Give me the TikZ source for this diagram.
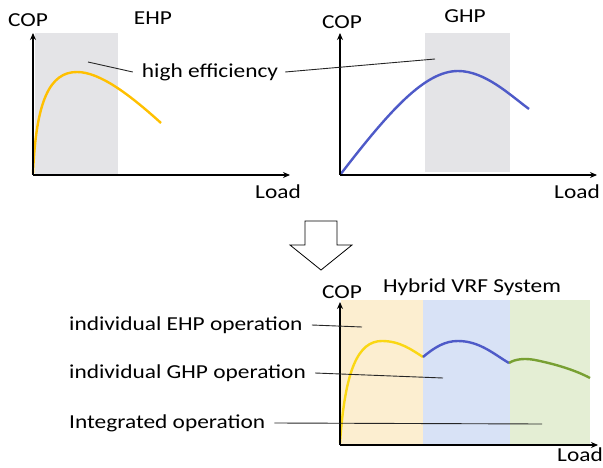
\documentclass[tikz,border=0pt]{standalone}
\usepackage{fontspec}
\setmainfont{Carlito}[FakeStretch=1.18]
\usetikzlibrary{arrows.meta}
\definecolor{ehpc}{RGB}{255,192,0}
\definecolor{ehpb}{RGB}{250,215,20}
\definecolor{ghpc}{RGB}{78,90,200}
\definecolor{grnc}{RGB}{120,160,50}
\definecolor{grayb}{RGB}{228,228,231}
\definecolor{yelb}{RGB}{252,238,208}
\definecolor{blub}{RGB}{216,226,246}
\definecolor{grnb}{RGB}{228,238,212}
\tikzset{
  axis/.style={line width=2.6pt,-{Stealth[length=7pt,width=6pt]}},
  curve/.style={line width=2.4pt},
  lbl/.style={inner sep=0pt,font=\fontsize{19.8}{23}\selectfont},
  lead/.style={line width=0.9pt,black!85},
}
\begin{document}
\begin{tikzpicture}[x=1pt,y=-1pt]
\useasboundingbox (0,0) rectangle (603,468);
% ---------- EHP panel
\fill[grayb] (35,33) rectangle (118,175);
\coordinate (o1) at (33,175);
\coordinate (y1) at (33,33);
\coordinate (x1) at (290,175);
\draw[curve,ehpc] (33,174) .. controls (36,100) and (50,72) .. (77,72) .. controls (100,72) and (130,95) .. (161,123);
\draw[axis] (o1) -- (y1);
\draw[axis] (o1) -- (x1);
\node[lbl] (cop1) at (28,20) {COP};
\node[lbl] (ehp) at (153,18) {EHP};
\node[lbl] (load1) at (278,192) {Load};
% ---------- GHP panel
\fill[grayb] (425,33) rectangle (510,172);
\coordinate (o2) at (340,175);
\coordinate (y2) at (340,33);
\coordinate (x2) at (597,175);
\draw[curve,ghpc] (340,175) .. controls (390,110) and (425,71) .. (458,71) .. controls (485,71) and (510,95) .. (529,109);
\draw[axis] (o2) -- (y2);
\draw[axis] (o2) -- (x2);
\node[lbl] (cop2) at (342,22) {COP};
\node[lbl] (ghp) at (465,16) {GHP};
\node[lbl] (load2) at (577,192) {Load};
% ---------- high efficiency
\node[lbl] (he) at (210,72) {high efficiency};
\coordinate (he1) at (88,62);
\coordinate (he2) at (435,59);
\draw[lead] ([xshift=-9pt]he.west) -- (he1);
\draw[lead] ([xshift=7pt]he.east) -- (he2);
% ---------- hollow arrow
\draw[line width=0.8pt,fill=white] (305,221) -- (337,221) -- (337,245) -- (352,245) -- (321,270) -- (290,245) -- (305,245) -- cycle;
% ---------- Hybrid panel
\fill[yelb] (341,300) rectangle (423,444);
\fill[blub] (423,300) rectangle (510,444);
\fill[grnb] (510,300) rectangle (590,444);
\coordinate (o3) at (340,445);
\coordinate (y3) at (340,302);
\coordinate (x3) at (598,445);
\draw[curve,ehpb] (340,443) .. controls (345,370) and (358,341) .. (382,341) .. controls (400,341) and (412,350) .. (423,357);
\draw[curve,ghpc] (423,357) .. controls (435,347) and (445,341) .. (458,341) .. controls (480,341) and (495,355) .. (509,363);
\draw[curve,grnc] (509,363) .. controls (515,359) and (525,358) .. (535,360) .. controls (555,364) and (575,370) .. (590,378);
\draw[axis] (o3) -- (y3);
\draw[axis] (o3) -- (x3);
\node[lbl] (cop3) at (342,292) {COP};
\node[lbl] (hyb) at (472,287) {Hybrid VRF System};
\node[lbl] (load3) at (580,455) {Load};
\node[lbl,anchor=west] (t1) at (69,325) {individual EHP operation};
\node[lbl,anchor=west] (t2) at (69,373) {individual GHP operation};
\node[lbl,anchor=west] (t3) at (69,423) {Integrated operation};
\coordinate (e1) at (362,327);
\coordinate (e2) at (443,378);
\coordinate (e3) at (542,424);
\draw[lead] ([xshift=9pt]t1.east) -- (e1);
\draw[lead] ([xshift=9pt]t2.east) -- (e2);
\draw[lead] ([xshift=9pt]t3.east) -- (e3);
\end{tikzpicture}
\end{document}
